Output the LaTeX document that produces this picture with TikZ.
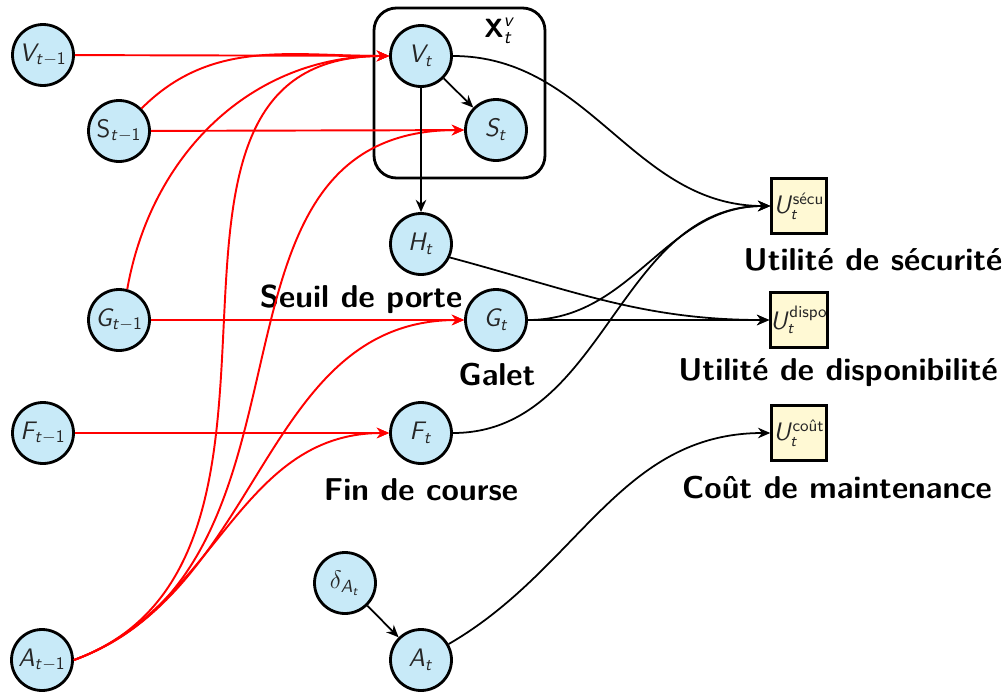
\documentclass[tikz,border=0pt]{standalone}
\usepackage{amsmath}
\usetikzlibrary{arrows.meta}
\DeclareMathAlphabet{\mathsfit}{OT1}{cmss}{m}{sl}
\definecolor{nodeblue}{RGB}{200,234,248}
\definecolor{utilyellow}{RGB}{255,249,212}
\begin{document}
\begin{tikzpicture}[x=0.02cm,y=-0.02cm,
  var/.style={circle,draw=black,line width=1.6pt,fill=nodeblue,minimum size=1.22cm,inner sep=0pt,
    font=\fontsize{14.5}{16}\selectfont\sffamily,text=black!85},
  util/.style={rectangle,draw=black,line width=1.4pt,fill=utilyellow,minimum size=1.1cm,inner sep=0pt,
    font=\fontsize{13.5}{15}\selectfont\sffamily,text=black!85},
  lbl/.style={font=\fontsize{18}{21}\selectfont\sffamily\bfseries,inner sep=0pt},
  redarr/.style={draw=red,line width=1.1pt,-{Stealth[length=7pt,width=6pt]}},
  blkarr/.style={draw=black,line width=1.0pt,-{Stealth[length=7pt,width=6pt]}},
  grp/.style={draw=black,line width=1.6pt,rounded corners=0.45cm}
]
\useasboundingbox (0,0) rectangle (1007,693);

% group box
\draw[grp] (374,8) rectangle (545,178);
\node[font=\fontsize{15}{18}\selectfont\sffamily] (xlab) at (500,31) {$\textbf{\textsf{X}}_{\mathsfit{t}}^{\mathsfit{v}}$};

% previous slice
\node[var] (Vm) at (43,55) {$\mathsfit{V}_{\mathsfit{t}-\mathsf{1}}$};
\node[var] (Sm) at (119,131) {$\mathsf{S}_{\mathsfit{t}-\mathsf{1}}$};
\node[var] (Gm) at (119,320) {$\mathsfit{G}_{\mathsfit{t}-\mathsf{1}}$};
\node[var] (Fm) at (43,433) {$\mathsfit{F}_{\mathsfit{t}-\mathsf{1}}$};
\node[var] (Am) at (42,660) {$\mathsfit{A}_{\mathsfit{t}-\mathsf{1}}$};

% current slice
\node[var] (Vt) at (421,56) {$\mathsfit{V}_{\mathsfit{t}}$};
\node[var] (St) at (496,130) {$\mathsfit{S}_{\mathsfit{t}}$};
\node[var] (Ht) at (421,244) {$\mathsfit{H}_{\mathsfit{t}}$};
\node[var] (Gt) at (496,320) {$\mathsfit{G}_{\mathsfit{t}}$};
\node[var] (Ft) at (421,433) {$\mathsfit{F}_{\mathsfit{t}}$};
\node[var] (dA) at (345,583) {$\delta_{\mathsfit{A}_{\mathsfit{t}}}$};
\node[var] (At) at (421,660) {$\mathsfit{A}_{\mathsfit{t}}$};

% utilities
\node[util] (Us) at (799,206) {$\mathsfit{U}_{\mathsfit{t}}^{\text{\sffamily sécu}}$};
\node[util] (Ud) at (799,320) {$\mathsfit{U}_{\mathsfit{t}}^{\text{\sffamily dispo}}$};
\node[util] (Uc) at (799,433) {$\mathsfit{U}_{\mathsfit{t}}^{\text{\sffamily coût}}$};

% labels
\node[lbl] (lH) at (361,299) {Seuil de porte};
\node[lbl] (lG) at (497,375) {Galet};
\node[lbl] (lF) at (421,490) {Fin de course};
\node[lbl] (lUs) at (873,260) {Utilité de sécurité};
\node[lbl] (lUd) at (838,373) {Utilité de disponibilité};
\node[lbl] (lUc) at (837,488) {Coût de maintenance};

% red temporal arcs
\draw[redarr] (Vm) -- (Vt);
\draw[redarr] (Sm) -- (St);
\draw[redarr] (Gm) -- (Gt);
\draw[redarr] (Fm) -- (Ft);
\draw[redarr] (Sm.45) to[out=45,in=180] (Vt.west);
\draw[redarr] (Gm.75) to[out=80,in=180] (Vt.west);
\draw[redarr] (Am.east) to[out=20,in=180,looseness=1.1] (Vt.west);
\draw[redarr] (Am.east) to[out=20,in=180,looseness=1.1] (St.west);
\draw[redarr] (Am.east) to[out=20,in=180] (Gt.west);
\draw[redarr] (Am.east) to[out=20,in=180] (Ft.west);

% black arcs
\draw[blkarr] (Vt) -- (St);
\draw[blkarr] (Vt) -- (Ht);
\draw[blkarr] (dA) -- (At);
\draw[blkarr] (Vt.east) to[out=0,in=180] (Us.west);
\draw[blkarr] (Gt.east) to[out=0,in=180] (Us.west);
\draw[blkarr] (Ft.east) to[out=0,in=180] (Us.west);
\draw[blkarr] (Ht.-25) to[out=-15,in=180] (Ud.west);
\draw[blkarr] (Gt.east) -- (Ud.west);
\draw[blkarr] (At.30) to[out=30,in=180] (Uc.west);
\end{tikzpicture}
\end{document}
